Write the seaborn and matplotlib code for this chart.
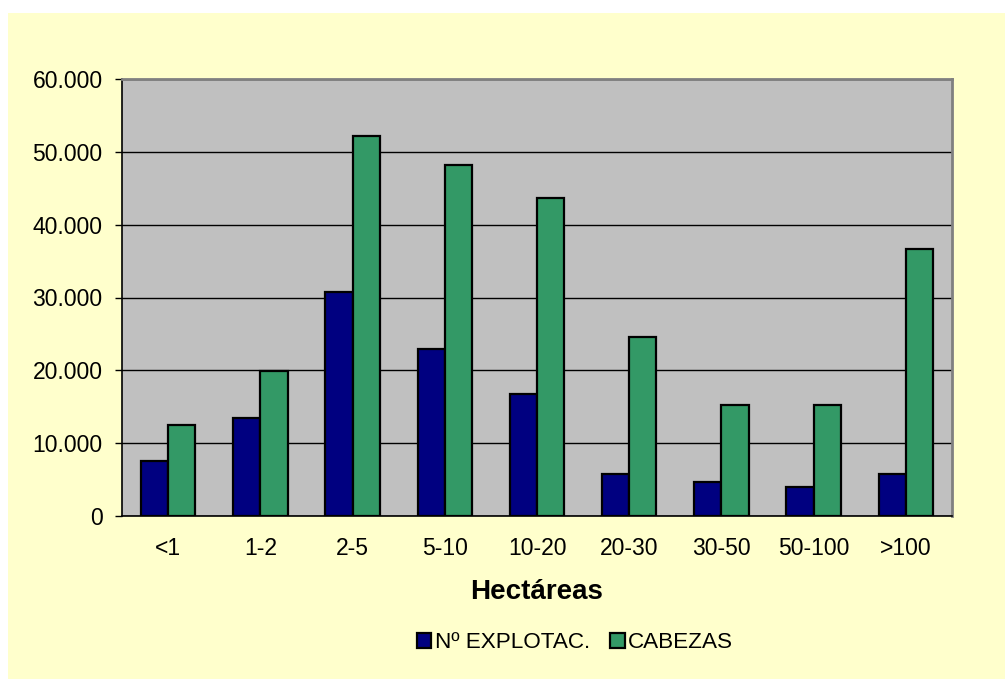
import numpy as np
import pandas as pd
import matplotlib
matplotlib.use("Agg")
import matplotlib.pyplot as plt
from matplotlib.patches import Rectangle
from matplotlib.ticker import FuncFormatter
import seaborn as sns

# data
rangos = ["<1", "1-2", "2-5", "5-10", "10-20", "20-30", "30-50", "50-100", ">100"]
explotaciones = [7600, 13400, 30700, 22900, 16800, 5800, 4700, 4000, 5700]
cabezas = [12500, 19900, 52200, 48200, 43600, 24600, 15300, 15300, 36700]
series = ["Nº EXPLOTAC.", "CABEZAS"]
yticks = [0, 10000, 20000, 30000, 40000, 50000, 60000]

df = pd.DataFrame({
    "Hectáreas": rangos * 2,
    "valor": explotaciones + cabezas,
    "serie": [series[0]] * len(rangos) + [series[1]] * len(rangos),
})

sns.set_style("white")
plt.rcParams["font.family"] = ["Liberation Sans", "DejaVu Sans"]
plt.rcParams["text.color"] = "black"
plt.rcParams["axes.labelcolor"] = "black"
plt.rcParams["xtick.color"] = "black"
plt.rcParams["ytick.color"] = "black"

fig = plt.figure(figsize=(10.05, 6.79), dpi=100, facecolor="white")
# cream chart area (leaves a thin white strip at top and left)
fig.patches.append(Rectangle((8 / 1005, 0), 1, 1 - 13 / 679, transform=fig.transFigure,
                             facecolor="#FFFFCC", edgecolor="none", zorder=-10))

ax = fig.add_axes([122 / 1005, 1 - 516 / 679, 830 / 1005, 437 / 679])
ax.set_facecolor("#C0C0C0")

sns.barplot(data=df, x="Hectáreas", y="valor", hue="serie", palette=["#000080", "#339966"],
            saturation=1, width=0.59, edgecolor="black", linewidth=1.6, ax=ax, zorder=3)

ax.set_ylim(0, 60000)
ax.set_xlim(-0.5, len(rangos) - 0.5)
ax.set_yticks(yticks)
ax.yaxis.set_major_formatter(FuncFormatter(lambda v, p: f"{int(v):,}".replace(",", ".")))
ax.yaxis.grid(True, color="black", linewidth=1, zorder=0)
ax.set_axisbelow(True)

# ticks between categories
ax.set_xticks(np.arange(-0.5, len(rangos), 1), minor=True)
ax.tick_params(axis="x", which="major", length=0, pad=15, labelsize=16.5)
ax.tick_params(axis="x", which="minor", length=5, width=1, direction="out", color="black")
ax.tick_params(axis="y", length=5, width=1, direction="out", color="black", pad=9, labelsize=16.5)
ax.tick_params(bottom=True, left=True)

for s in ["left", "bottom"]:
    ax.spines[s].set_color("black")
    ax.spines[s].set_linewidth(1.2)
for s in ["top", "right"]:
    ax.spines[s].set_color("#808080")
    ax.spines[s].set_linewidth(2)

ax.set_ylabel("")
ax.set_xlabel("Hectáreas", fontsize=20, fontweight="bold")
ax.xaxis.set_label_coords(0.5, -0.145)

handles, labels = ax.get_legend_handles_labels()
ax.get_legend().remove()
fig.legend(handles, labels, loc="center", bbox_to_anchor=(575 / 1005, 1 - 643 / 679), ncol=2,
           frameon=False, fontsize=16.2, handlelength=0.65, handleheight=0.65,
           handletextpad=0.15, columnspacing=0.9)

fig.savefig("out.png", dpi=100, facecolor=fig.get_facecolor())
